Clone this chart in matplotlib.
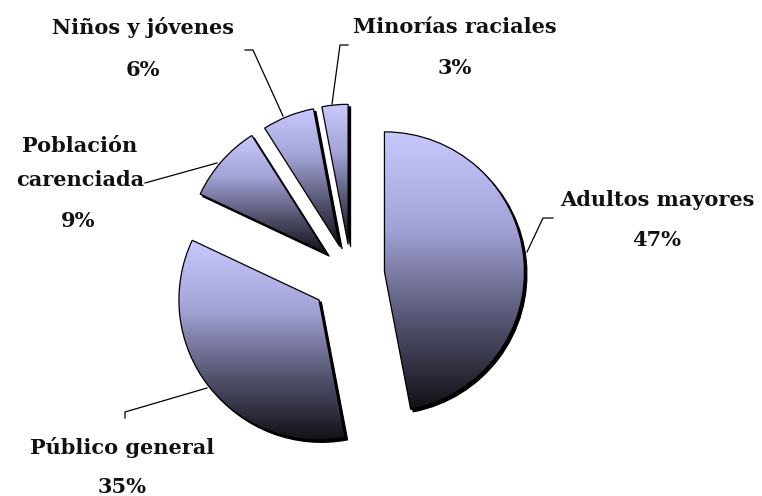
import numpy as np
import matplotlib
matplotlib.use("Agg")
import matplotlib.pyplot as plt
from matplotlib.colors import LinearSegmentedColormap
from matplotlib.patches import Wedge

# data, clockwise from 12 o'clock
labels = ["Adultos mayores", "Público general", "Población\ncarenciada",
          "Niños y jóvenes", "Minorías raciales"]
values = [47, 35, 9, 6, 3]
explode = [0.24, 0.29, 0.23, 0.22, 0.22]   # fraction of radius

W, H = 762, 496
R = 140


def py(y):
    # pixel row (from top) -> data y (from bottom)
    return H - y


fig = plt.figure(figsize=(W / 100, H / 100), dpi=100)
ax = fig.add_axes([0, 0, 1, 1])
ax.set_axis_off()

# pie() offsets by explode in data units, so scale by the radius
wedges, _ = ax.pie(values, explode=[e * R for e in explode], startangle=90,
                   counterclock=False, center=(351, py(275)), radius=R,
                   wedgeprops=dict(facecolor="none", edgecolor="black",
                                   linewidth=0.9, zorder=3))

cmap = LinearSegmentedColormap.from_list(
    "lav", [(0.0, "#111116"), (0.3, "#50506c"), (0.65, "#a2a2d6"),
            (1.0, "#c9c9ff")])
grad = np.linspace(0, 1, 256).reshape(-1, 1)
for w in wedges:
    ext = w.get_path().get_extents()
    im = ax.imshow(grad, cmap=cmap, origin="lower", aspect="auto",
                   extent=[ext.x0, ext.x1, ext.y0, ext.y1],
                   interpolation="bicubic", zorder=2)
    im.set_clip_path(w)
    cx, cy = w.center
    shadow = Wedge((cx + 2.5, cy - 2.5), w.r, w.theta1, w.theta2,
                   facecolor="black", edgecolor="black", linewidth=0.8,
                   zorder=1)
    ax.add_patch(shadow)

font = dict(family="DejaVu Serif", weight="bold", size=15, color="#111111")

# label name / percentage positions (pixels from top-left)
name_pos = [(657, 200), (122, 448), (80, 163), (143, 28), (455, 27)]
pct_pos = [(657, 240), (122, 487), (78, 221), (143, 70), (455, 68)]
for lab, v, (nx, ny), (px, pyy) in zip(labels, values, name_pos, pct_pos):
    ax.text(nx, py(ny), lab, ha="center", va="center", linespacing=1.9, **font)
    ax.text(px, py(pyy), f"{v}%", ha="center", va="center", **font)

# leader lines
leaders = [
    [(553, 218), (543, 218), (527, 252)],
    [(125, 418), (125, 412), (207, 388)],
    [(145, 183), (217, 163)],
    [(245, 50), (253, 50), (283, 116)],
    [(348, 45), (340, 45), (332, 104)],
]
for pts in leaders:
    xs = [p[0] for p in pts]
    ys = [py(p[1]) for p in pts]
    ax.plot(xs, ys, color="black", linewidth=0.9, zorder=4)

ax.set_xlim(0, W)
ax.set_ylim(0, H)
ax.set_aspect("auto")

fig.savefig("out.png", dpi=100, facecolor="white")
